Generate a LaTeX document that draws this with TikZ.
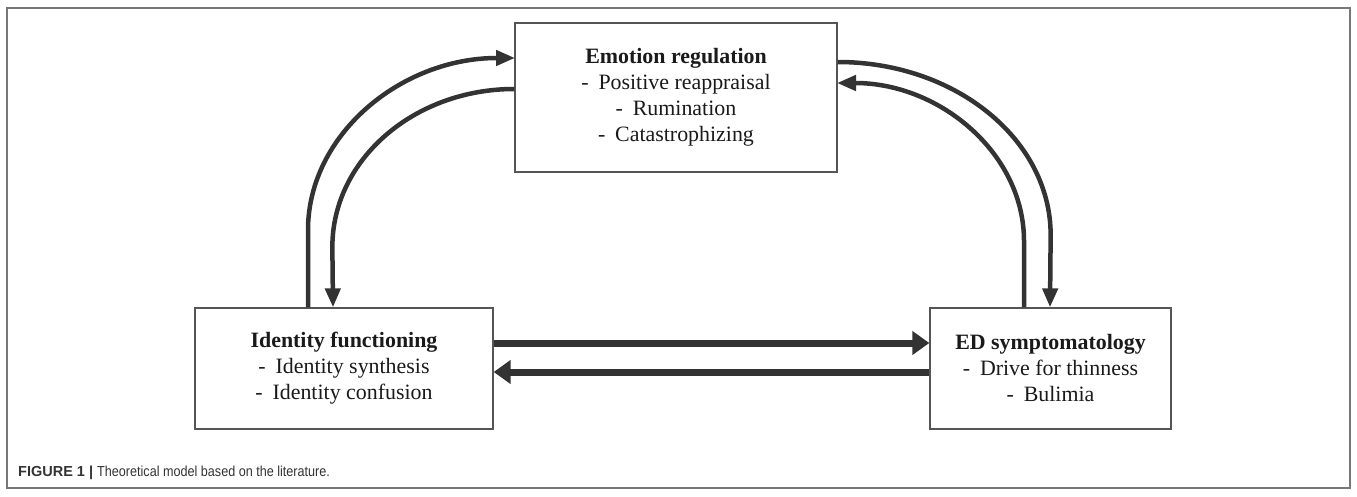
\documentclass[tikz,border=0pt]{standalone}
\usepackage{fontspec}
\setmainfont{Liberation Serif}
\newfontfamily\capfont{Liberation Sans}
\usetikzlibrary{arrows.meta}
\definecolor{arr}{HTML}{333333}
\definecolor{edgec}{HTML}{555555}
\definecolor{framec}{HTML}{777777}
\definecolor{txt}{HTML}{1A1A1A}
\begin{document}
\begin{tikzpicture}[x=1pt,y=1pt,
  box/.style={draw=edgec,line width=1.3pt,fill=white,align=center,inner sep=0pt,
    text=txt,font=\fontsize{21.9}{26}\selectfont},
  bigarrow/.style={draw=arr,line width=7pt,-{Triangle[length=17pt,width=23pt]}},
  arcarrow/.style={draw=arr,line width=4.5pt,-{Triangle[length=19pt,width=15pt]}}]
\useasboundingbox (0,0) rectangle (1357,496);
\draw[framec,line width=1.5pt] (7,8) rectangle (1350,488);

\node[box,minimum width=322pt,minimum height=149pt] (emo) at (676,398.5)
  {\textbf{Emotion regulation}\\-\hspace{0.45em}Positive reappraisal\\-\hspace{0.45em}Rumination\\-\hspace{0.45em}Catastrophizing};
\node[box,minimum width=298pt,minimum height=121pt] (idf) at (344,127.5)
  {\textbf{Identity functioning}\\-\hspace{0.45em}Identity synthesis\\-\hspace{0.45em}Identity confusion};
\node[box,minimum width=241pt,minimum height=121pt] (eds) at (1050.5,127.5)
  {\textbf{ED symptomatology}\\-\hspace{0.45em}Drive for thinness\\-\hspace{0.45em}Bulimia};

% helper coordinates
\coordinate (xL1) at (308,0);
\coordinate (xL2) at (333,0);
\coordinate (xR1) at (1050,0);
\coordinate (xR2) at (1024,0);
\coordinate (yE2) at (0,407);
\coordinate (yE3) at (0,434);
\coordinate (yH1) at (0,153);
\coordinate (yH2) at (0,124);

% horizontal arrows
\draw[bigarrow] (idf.east |- yH1) -- (eds.west |- yH1);
\draw[bigarrow] (eds.west |- yH2) -- (idf.east |- yH2);

% left arcs
\draw[arcarrow] (idf.north -| xL1) -- (308,266)
  arc[start angle=180,end angle=90,x radius=207,y radius=172];
\draw[arcarrow] (emo.west |- yE2)
  arc[start angle=90,end angle=180,x radius=182,y radius=158] -- (idf.north -| xL2);

% right arcs
\draw[arcarrow] (emo.east |- yE3)
  arc[start angle=90,end angle=0,x radius=213,y radius=173] -- (eds.north -| xR1);
\draw[arcarrow] (eds.north -| xR2) -- (1024,255)
  arc[start angle=0,end angle=90,x radius=187,y radius=158];

\node[anchor=base west,inner sep=0pt,text=arr] (cap) at (18,20)
  {\capfont\fontsize{14.5}{16}\selectfont\textbf{FIGURE 1 |}\ \scalebox{0.87}[1]{Theoretical model based on the literature.}};
\end{tikzpicture}
\end{document}
